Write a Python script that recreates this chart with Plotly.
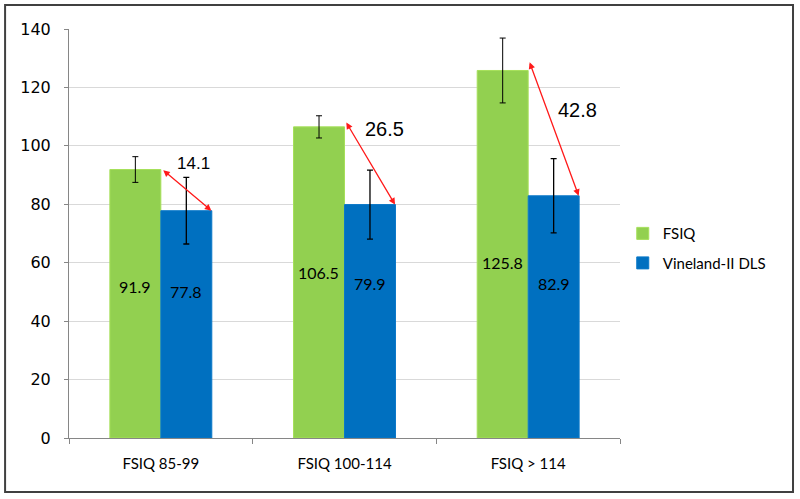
import plotly.graph_objects as go

categories = ["FSIQ 85-99", "FSIQ 100-114", "FSIQ > 114"]
fsiq = [91.9, 106.5, 125.8]
fsiq_err = [4.4, 3.8, 11.1]
vineland = [77.8, 79.9, 82.9]
vineland_err = [11.4, 11.8, 12.7]
differences = ["14.1", "26.5", "42.8"]
label_y_fsiq = [52, 56.8, 60]
label_y_vin = [50, 53, 53]
arrow_start_y = [92.1, 108.5, 129.1]
diff_label_y = [94.1, 105.8, 112.3]
diff_label_dx = [0.18, 0.22, 0.267]
diff_label_size = [17, 20, 20]

GREEN = "#92D050"
BLUE = "#0070C0"

fig = go.Figure()
fig.add_trace(go.Bar(
    name="FSIQ", x=categories, y=fsiq, legendgroup="a",
    marker=dict(color=GREEN, line=dict(color="#A6E05A", width=1)),
    error_y=dict(type="data", array=fsiq_err, color="black", thickness=1, width=3),
))
fig.add_trace(go.Bar(
    name="Vineland-II DLS", x=categories, y=vineland, legendgroup="b",
    marker=dict(color=BLUE, line=dict(color="#0A78C8", width=1)),
    error_y=dict(type="data", array=vineland_err, color="black", thickness=1.3, width=3),
))

bw = 0.139  # half group offset in category units
for i in range(len(categories)):
    fig.add_annotation(x=i - bw, y=label_y_fsiq[i], text=f"{fsiq[i]}", showarrow=False,
                       font=dict(family="Lato, Open Sans", size=16, color="black"))
    fig.add_annotation(x=i + bw, y=label_y_vin[i], text=f"{vineland[i]}", showarrow=False,
                       font=dict(family="Lato, Open Sans", size=16, color="black"))
    fig.add_annotation(x=i + 0.275, y=vineland[i], ax=i + 0.005, ay=arrow_start_y[i],
                       xref="x", yref="y", axref="x", ayref="y",
                       text="", showarrow=True, arrowhead=2, startarrowhead=2,
                       arrowside="end+start", arrowsize=1, arrowwidth=1.3,
                       arrowcolor="#FF1A1A", startarrowsize=1)
    fig.add_annotation(x=i + diff_label_dx[i], y=diff_label_y[i], text=differences[i],
                       showarrow=False,
                       font=dict(family="Liberation Sans, Arial", size=diff_label_size[i],
                                 color="black"))

fig.add_shape(type="rect", xref="paper", yref="paper",
              x0=-0.116, x1=1.314, y0=-0.132, y1=1.0587,
              line=dict(color="#404040", width=2), layer="below")

fig.update_layout(
    width=800, height=499,
    margin=dict(l=69, r=180, t=29, b=61),
    paper_bgcolor="white", plot_bgcolor="white",
    barmode="group", bargap=0.445, bargroupgap=0,
    showlegend=True,
    legend=dict(x=1.005, y=0.54, xanchor="left", yanchor="top",
                font=dict(family="Lato, Open Sans", size=15, color="black"),
                itemwidth=30, tracegroupgap=7, bgcolor="rgba(0,0,0,0)"),
    xaxis=dict(
        showline=True, linecolor="#868686", linewidth=1,
        ticks="outside", tickson="boundaries", ticklen=5, tickcolor="#868686",
        tickfont=dict(family="Lato, Open Sans", size=15, color="black"),
        ticklabelstandoff=12,
        showgrid=False,
    ),
    yaxis=dict(
        range=[0, 140], dtick=20,
        showline=True, linecolor="#868686", linewidth=1,
        ticks="outside", ticklen=4, tickcolor="#868686",
        gridcolor="#D9D9D9", gridwidth=1,
        tickfont=dict(family="DejaVu Sans", size=16, color="black"),
        ticklabelstandoff=10,
        zeroline=False,
    ),
)

fig.write_html("out.html", post_script="document.body.style.margin='0';",
               config={"displayModeBar": False})
